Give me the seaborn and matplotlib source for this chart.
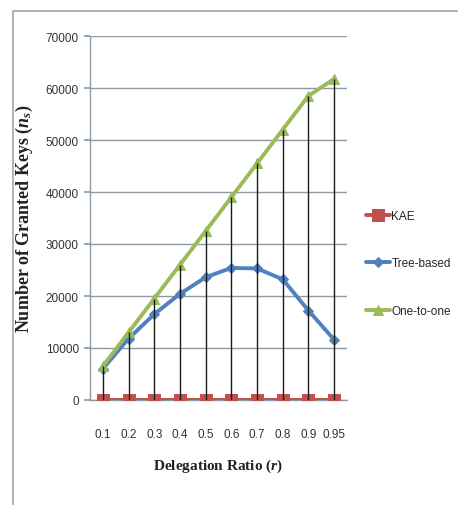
import numpy as np
import pandas as pd
import matplotlib.pyplot as plt
import matplotlib.patches as mpatches
import seaborn as sns

sns.set_theme(style="white")
plt.rcParams['font.family'] = ['Liberation Sans', 'DejaVu Sans']
plt.rcParams['mathtext.fontset'] = 'custom'
plt.rcParams['mathtext.rm'] = 'Liberation Serif:bold'
plt.rcParams['mathtext.it'] = 'Liberation Serif:italic:bold'

ratios = ["0.1", "0.2", "0.3", "0.4", "0.5", "0.6", "0.7", "0.8", "0.9", "0.95"]
kae = [0, 0, 0, 0, 0, 0, 0, 0, 0, 0]
tree_based = [6000, 11800, 16500, 20400, 23600, 25400, 25300, 23200, 17200, 11600]
one_to_one = [6500, 13000, 19500, 26000, 32500, 39000, 45500, 52000, 58500, 61750]

series = ["KAE", "Tree-based", "One-to-one"]
colors = {"KAE": "#c0504d", "Tree-based": "#4f81bd", "One-to-one": "#9bbb59"}
markers = {"KAE": "s", "Tree-based": "D", "One-to-one": "^"}
msize = {"KAE": 9, "Tree-based": 5, "One-to-one": 7}

pos = np.arange(len(ratios))
df = pd.DataFrame({
    "pos": np.tile(pos, 3),
    "value": kae + tree_based + one_to_one,
    "series": np.repeat(series, len(ratios)),
})

fig = plt.figure(figsize=(4.58, 5.06), dpi=100)
fig.patches.append(mpatches.Rectangle((13 / 458, -0.1), 1.2, 1 - 12 / 506 + 0.1,
                                      transform=fig.transFigure, fill=False,
                                      edgecolor="#a6a6a6", linewidth=1.2))
ax = fig.add_axes([90 / 458, 1 - 401 / 506, 257 / 458, 364 / 506])

# drop lines from the top series down to the axis
top = df.groupby("pos")["value"].max()
ax.vlines(top.index, 0, top.values, color="#1a1a1a", linewidth=1.0, zorder=4)

for name in series:
    sub = df[df["series"] == name]
    sns.lineplot(data=sub, x="pos", y="value", ax=ax, color=colors[name],
                 marker=markers[name], markersize=msize[name], linewidth=2.8,
                 markeredgecolor=colors[name], label=name, zorder=3)

ax.set_xlim(-0.5, len(ratios) - 0.5)
ax.set_ylim(0, 70000)
ax.set_yticks(np.arange(0, 70001, 10000))
ax.set_xticks(pos)
ax.set_xticklabels(ratios)
ax.yaxis.grid(True, color="#8c9aa6", linewidth=1.0)
ax.xaxis.grid(False)
ax.set_axisbelow(True)
for s in ["top", "right"]:
    ax.spines[s].set_visible(False)
for s in ["left", "bottom"]:
    ax.spines[s].set_color("#8c9aa6")
    ax.spines[s].set_linewidth(1.0)
ax.tick_params(axis="y", length=4, color="#8c9aa6", labelsize=8.5, pad=4,
               left=True, labelcolor="#333333")
ax.tick_params(axis="x", length=0, labelsize=8.5, pad=20, labelcolor="#333333")

ax.set_xlabel("Delegation Ratio ($\\mathit{r}$)", family="Liberation Serif",
              fontweight="bold", fontsize=11, labelpad=12, color="#222222")
ax.set_ylabel("Number of Granted Keys ($\\mathit{n_s}$)", family="Liberation Serif",
              fontweight="bold", fontsize=13, color="#222222")
ax.yaxis.set_label_coords((35 - 90) / 257, 0.5)

ax.legend(loc="upper left", bbox_to_anchor=(366 / 458, 1 - 211 / 506),
          bbox_transform=fig.transFigure, frameon=False, fontsize=8.5,
          handlelength=2.0, handletextpad=0.15, labelspacing=3.0,
          borderaxespad=0, borderpad=0)

fig.savefig("out.png", dpi=100)
